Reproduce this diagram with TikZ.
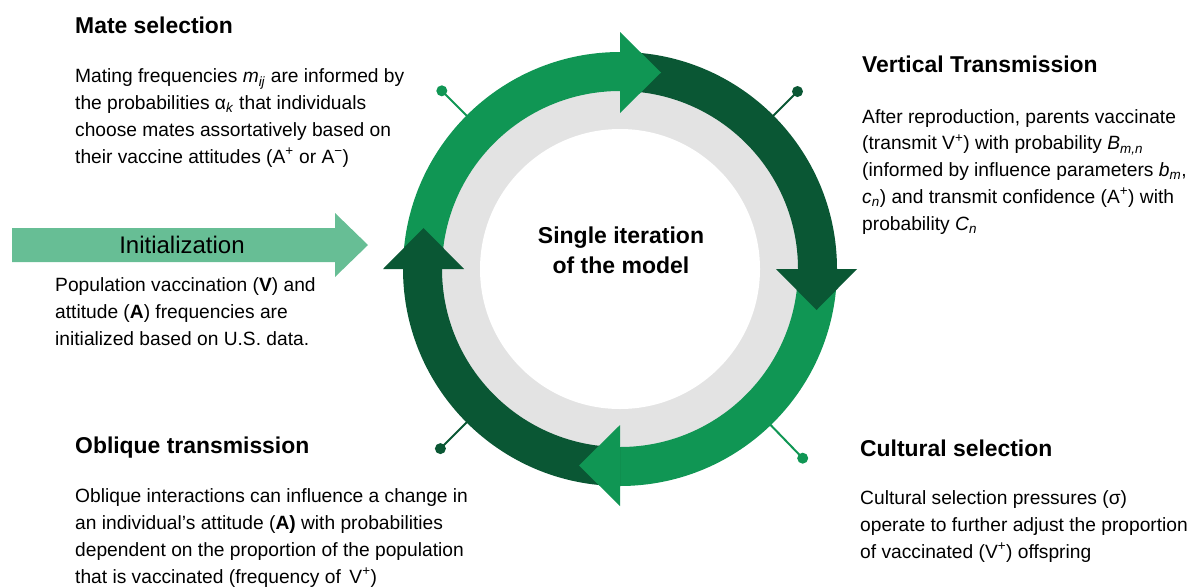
\documentclass[tikz,border=0pt]{standalone}
\usepackage{fontspec}
\setmainfont{Liberation Sans}
\usetikzlibrary{calc}
\definecolor{lightgreen}{HTML}{109654}
\definecolor{darkgreen}{HTML}{0A5734}
\definecolor{initgreen}{HTML}{67BE95}
\definecolor{ringgray}{HTML}{E3E3E3}
\tikzstyle{heading}=[anchor=base west,inner sep=0pt,font=\fontsize{22.9}{26}\selectfont\bfseries]
\tikzstyle{body}=[anchor=base west,inner sep=0pt,align=left,font=\fontsize{19.2}{26.7}\selectfont]
\tikzstyle{stalk}=[line width=2pt]

\begin{document}
\begin{tikzpicture}[x=1pt,y=1pt]
        \useasboundingbox (0,0) rectangle (1193,-587);
        \coordinate (c) at (620,-269);

        \fill[ringgray] (c) circle[radius=180];
        \fill[white] (c) circle[radius=140];

        \foreach \a/\r/\col in {135/252/lightgreen,45/251/darkgreen,-46/263/lightgreen,-135/254/darkgreen}{
          \draw[stalk,\col] ($(c)+(\a:205)$) -- ($(c)+(\a:\r)$);
          \fill[\col] ($(c)+(\a:\r)$) circle[radius=5.5];
        }

        \foreach \a/\b/\col in {180/90/lightgreen,90/0/darkgreen,0/-90/lightgreen,-90/-180/darkgreen}
          \fill[\col] ($(c)+(\a:217)$) arc[start angle=\a,end angle=\b,radius=217]
            -- ($(c)+(\b:178)$) arc[start angle=\b,end angle=\a,radius=178] -- cycle;
        \foreach \b/\col in {90/lightgreen,0/darkgreen,-90/lightgreen,180/darkgreen}
          \fill[\col] ($(c)+(\b:156)$) -- ($(c)+(\b:237)$) -- ($(c)+(\b:196.5)+(\b-90:41)$) -- cycle;

        \node at (621,-273) [anchor=base,align=center,inner sep=0pt,font=\fontsize{23}{30}\selectfont\bfseries] (centre) {Single iteration\\of the model};

        \fill[initgreen] (12,-228) -- (335,-228) -- (335,-213) -- (368,-245) -- (335,-277) -- (335,-262) -- (12,-262) -- cycle;
        \node at (182,-253) [anchor=base,inner sep=0pt,font=\fontsize{24}{28}\selectfont] (init) {Initialization};
        \node at (55,-345) [body] (inittxt) {Population vaccination (\textbf{V}) and\\attitude (\textbf{A}) frequencies are\\initialized based on U.S. data.};

        \node at (75,-33) [heading] (mate) {Mate selection};
        \node at (75,-163) [body] (matetxt) {Mating frequencies \textit{m}\textsubscript{\textit{ij}} are informed by\\the probabilities α\textsubscript{\textit{k}} that individuals\\choose mates assortatively based on\\their vaccine attitudes (A\textsuperscript{+} or A\textsuperscript{−})};

        \node at (862,-72) [heading] (vert) {Vertical Transmission};
        \node at (862,-230) [body] (verttxt) {After reproduction, parents vaccinate\\(transmit V\textsuperscript{+}) with probability \textit{B}\textsubscript{\textit{m,n}}\\(informed by influence parameters \textit{b}\textsubscript{\textit{m}},\\\textit{c}\textsubscript{\textit{n}}) and transmit confidence (A\textsuperscript{+}) with\\probability \textit{C}\textsubscript{\textit{n}}};

        \node at (75,-453) [heading] (obl) {Oblique transmission};
        \node at (75,-583) [body] (obltxt) {Oblique interactions can influence a change in\\an individual’s attitude (\textbf{A)} with probabilities\\dependent on the proportion of the population\\that is vaccinated (frequency of \,V\textsuperscript{+})};

        \node at (860,-456) [heading] (cult) {Cultural selection};
        \node at (860,-558) [body] (culttxt) {Cultural selection pressures (σ)\\operate to further adjust the proportion\\of vaccinated (V\textsuperscript{+}) offspring};
      \end{tikzpicture}
\end{document}
